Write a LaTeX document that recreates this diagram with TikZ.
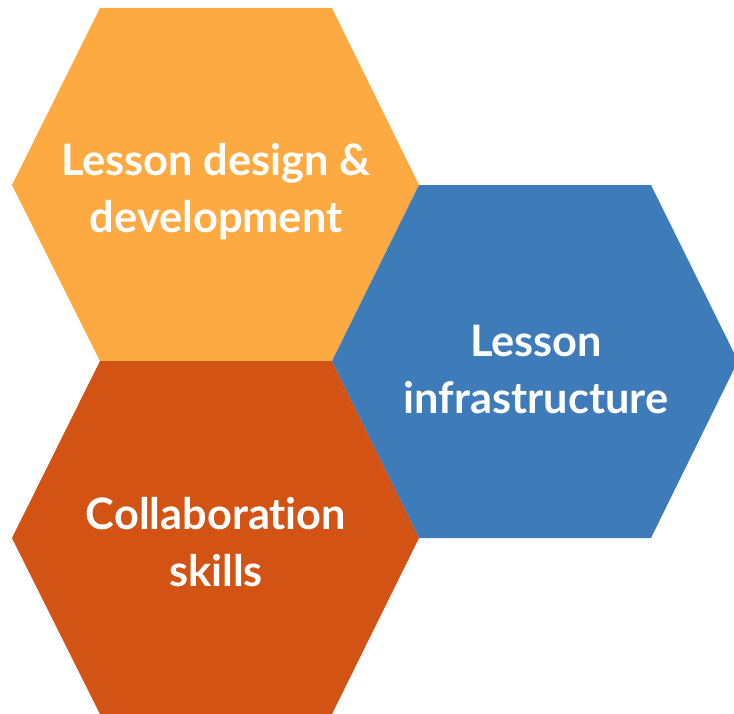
\documentclass[tikz,border=0pt]{standalone}
\usepackage{fontspec}
\setmainfont[Ligatures=NoCommon]{Lato}
\usepackage{xcolor}
\definecolor{designorange}{RGB}{253,170,66}
\definecolor{collabrust}{RGB}{210,83,20}
\definecolor{infrablue}{RGB}{62,123,185}

\begin{document}
\begin{tikzpicture}[x=0.75pt,y=-0.75pt,
		hexlabel/.style={text=white,align=center,font=\bfseries\fontsize{32.5}{42.75}\selectfont}]
			\useasboundingbox (0,0) rectangle (734,713);
			\clip (0,0) rectangle (734,713);
			% 上方六边形
			\fill[designorange] (12,185) -- (100,8) -- (332,8) -- (419,185) -- (332,361) -- (100,361) -- cycle;
			% 下方六边形
			\fill[collabrust] (12,538) -- (100,361) -- (332,361) -- (419,538) -- (332,714) -- (100,714) -- cycle;
			% 右侧六边形
			\fill[infrablue] (332,361) -- (419,185) -- (651,185) -- (738,361) -- (651,538) -- (419,538) -- cycle;
			% 文字
			\node[hexlabel] (design) at (216,192) {Lesson design \&\\development};
			\node[hexlabel] (infra) at (536,370) {Lesson\\infrastructure};
			\node[hexlabel] (collab) at (216,542) {Collaboration\\skills};
		\end{tikzpicture}
\end{document}
